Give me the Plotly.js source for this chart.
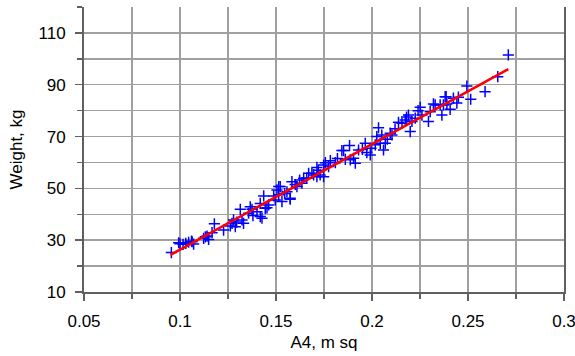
<!DOCTYPE html>
<html>
<head>
<meta charset="utf-8">
<script src="https://cdn.plot.ly/plotly-3.0.1.min.js"></script>
<style>html,body{margin:0;padding:0;background:#fff;overflow:hidden;}#chart{width:575px;height:356px;}</style>
</head>
<body>
<div id="chart"></div>
<script>
// Body surface area (A4, m sq) vs weight (kg)
const areaX = [
  0.0955,0.0993,0.1016,0.1045,0.1063,0.1071,0.1030,0.1000,0.1123,0.1141,0.1149,0.1167,0.1179,0.1132,
  0.1227,0.1262,0.1271,0.1288,0.1279,0.1314,0.1323,0.1331,0.1357,0.1366,0.1375,0.1401,0.1418,0.1427,
  0.1436,0.1453,0.1444,0.1462,0.1488,0.1496,0.1505,0.1514,0.1522,0.1531,0.1557,0.1574,0.1583,0.1609,
  0.1623,0.1635,0.1644,0.1670,0.1687,0.1696,0.1713,0.1730,0.1748,0.1757,0.1774,0.1783,0.1809,0.1843,
  0.1861,0.1883,0.1887,0.1904,0.1913,0.1852,0.1930,0.1965,0.1973,0.1991,0.2017,0.2025,0.2034,0.2043,
  0.2051,0.2060,0.2069,0.2095,0.2104,0.2138,0.2156,0.2173,0.2190,0.2199,0.2208,0.2225,0.2251,0.2260,
  0.2294,0.2303,0.2329,0.2364,0.2372,0.2390,0.2386,0.2320,0.2355,0.2381,0.2407,0.2424,0.2442,0.2450,
  0.2494,0.2514,0.2589,0.2655,0.2710,0.1418,0.1514,0.1574,0.1713,0.1748,0.1060,0.1545,0.1660,0.1995,
  0.2080,0.2120,0.1295,0.1380,0.1600,0.1720,0.1820,0.1950,0.2240,0.2180
];
const weightY = [
  25.2,29.0,28.4,29.2,29.4,28.5,28.8,28.6,30.7,31.6,30.3,32.9,36.3,31.3,
  33.9,35.5,36.5,35.2,37.8,41.9,37.8,36.5,40.4,42.9,41.9,41.0,44.2,38.5,
  47.1,42.5,42.3,43.6,47.1,45.5,49.4,47.5,50.7,44.9,48.7,45.8,52.6,50.7,
  53.2,52.0,53.9,55.8,55.8,55.2,58.1,55.2,59.0,59.9,58.4,60.7,59.9,64.6,
  61.2,66.5,61.0,61.6,59.7,64.6,64.8,67.4,63.8,62.9,66.8,70.0,73.4,67.4,
  70.6,64.8,67.4,71.3,70.6,75.5,75.1,76.4,78.3,71.9,75.8,77.1,81.3,78.3,
  75.8,79.6,82.2,78.3,82.2,82.6,85.4,82.6,82.2,85.4,80.5,84.8,82.9,85.2,
  89.5,84.4,87.3,93.1,101.5,39.1,50.7,46.2,54.5,54.5,29.6,48.0,54.0,65.5,
  69.0,73.0,37.0,39.5,51.5,57.0,61.5,65.0,80.0,77.5
];
// Linear trend line end points
const fitX = [0.095, 0.271];
const fitY = [24.3, 96.0];

const gridCol = '#a0a0a0';
const axisCol = '#606060';
const fontFam = 'Liberation Sans, Arial, sans-serif';

const data = [
  {x: areaX, y: weightY, type: 'scatter', mode: 'markers',
   marker: {symbol: 'cross-thin', size: 8, color: '#0000ff', line: {color: '#0000ff', width: 1.5}},
   hoverinfo: 'x+y', showlegend: false},
  {x: fitX, y: fitY, type: 'scatter', mode: 'lines',
   line: {color: '#ff0000', width: 2.5}, showlegend: false}
];

const layout = {
  width: 575, height: 356,
  margin: {l: 84, r: 11, t: 7, b: 64},
  paper_bgcolor: '#ffffff', plot_bgcolor: '#ffffff',
  font: {family: fontFam, size: 17, color: '#000'},
  showlegend: false,
  xaxis: {
    range: [0.05, 0.3], dtick: 0.05, tick0: 0.05,
    showgrid: true, gridcolor: gridCol, gridwidth: 1.5,
    ticks: 'outside', ticklen: 7, tickcolor: axisCol, tickwidth: 1.5,
    showline: true, linecolor: axisCol, linewidth: 2,
    zeroline: false, ticklabelstandoff: 6, ticklabeloverflow: 'allow',
    minor: {dtick: 0.025, tick0: 0.05, showgrid: true, gridcolor: gridCol, gridwidth: 1.5,
            ticks: 'outside', ticklen: 5, tickcolor: axisCol, tickwidth: 1.5},
    tickfont: {size: 17, family: fontFam},
    title: {text: 'A4, m sq', font: {size: 17, family: fontFam}, standoff: 6}
  },
  yaxis: {
    range: [10, 120], dtick: 20, tick0: 10,
    showgrid: true, gridcolor: gridCol, gridwidth: 1.5,
    ticks: 'outside', ticklen: 7, tickcolor: axisCol, tickwidth: 1.5,
    showline: true, linecolor: axisCol, linewidth: 2, mirror: true,
    zeroline: false, ticklabelstandoff: 6,
    minor: {dtick: 10, tick0: 10, showgrid: true, gridcolor: gridCol, gridwidth: 1.5,
            ticks: 'outside', ticklen: 5, tickcolor: axisCol, tickwidth: 1.5},
    tickfont: {size: 17, family: fontFam},
    title: {text: 'Weight, kg', font: {size: 17, family: fontFam}, standoff: 12}
  }
};

Plotly.newPlot('chart', data, layout, {staticPlot: true, displayModeBar: false});
</script>
</body>
</html>
